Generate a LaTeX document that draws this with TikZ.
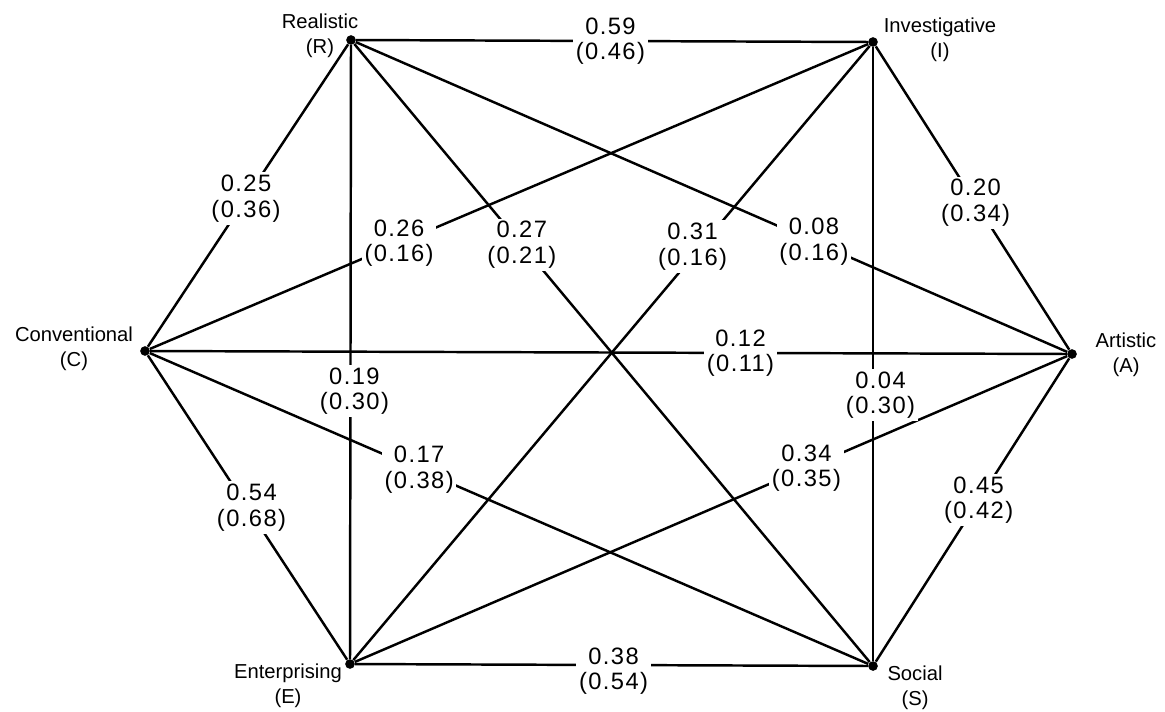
\documentclass[tikz,border=0pt]{standalone}
\usepackage{fontspec}
\setmainfont{Liberation Sans}
\newfontfamily\numfont[LetterSpace=6]{Liberation Sans}
\begin{document}
\begin{tikzpicture}[x=0.02cm,y=-0.02cm,
  edge/.style={line width=1.4pt},
  lab/.style={fill=white, inner sep=1.5pt, align=center, font=\numfont\fontsize{13.5}{14.5}\selectfont},
  vlab/.style={align=center, inner sep=0pt, font=\fontsize{11.5}{14.5}\selectfont},
  vert/.style={circle, fill, inner sep=0pt, minimum size=5.5pt}]
\useasboundingbox (0,0) rectangle (1165,711);
% vertices
\node[vert] (R) at (351,40) {};
\node[vert] (I) at (873,42) {};
\node[vert] (A) at (1072,354) {};
\node[vert] (S) at (873,666) {};
\node[vert] (E) at (350,664) {};
\node[vert] (C) at (145,351) {};
% vertex labels
\node[vlab] (lR) at (320,36) {Realistic\\(R)};
\node[vlab] (lI) at (940,40) {Investigative\\(I)};
\node[vlab] (lC) at (74,349) {Conventional\\(C)};
\node[vlab] (lA) at (1126,355) {Artistic\\(A)};
\node[vlab] (lE) at (288,686) {Enterprising\\(E)};
\node[vlab] (lS) at (915,688) {Social\\(S)};
% edges
\draw[edge] (R) -- (I);
\draw[edge] (I) -- (A);
\draw[edge] (A) -- (S);
\draw[edge] (S) -- (E);
\draw[edge] (C) -- (E);
\draw[edge] (C) -- (R);
\draw[edge] (R) -- (E);
\draw[edge] (C) -- (A);
\draw[edge] (I) -- (S);
\draw[edge] (A) -- (E);
\draw[edge] (C) -- (S);
\draw[edge] (I) -- (C);
\draw[edge] (R) -- (S);
\draw[edge] (I) -- (E);
\draw[edge] (R) -- (A);
% edge labels
\path (R) -- node[lab,pos=0.497] (nRI) {0.59\\(0.46)} (I);
\path (I) -- node[lab,pos=0.516] (nIA) {0.20\\(0.34)} (A);
\path (A) -- node[lab,pos=0.468] (nAS) {0.45\\(0.42)} (S);
\path (S) -- node[lab,pos=0.496,yshift=-0.12cm] (nSE) {0.38\\(0.54)} (E);
\path (C) -- node[lab,pos=0.5,xshift=0.08cm] (nCE) {0.54\\(0.68)} (E);
\path (C) -- node[lab,pos=0.49] (nCR) {0.25\\(0.36)} (R);
\path (R) -- node[lab,pos=0.564,xshift=0.08cm] (nRE) {0.19\\(0.30)} (E);
\path (C) -- node[lab,pos=0.644] (nCA) {0.12\\(0.11)} (A);
\path (I) -- node[lab,pos=0.567,xshift=0.15cm] (nIS) {0.04\\(0.30)} (S);
\path (A) -- node[lab,pos=0.366] (nAE) {0.34\\(0.35)} (E);
\path (C) -- node[lab,pos=0.375] (nCS) {0.17\\(0.38)} (S);
\path (I) -- node[lab,pos=0.653] (nIC) {0.26\\(0.16)} (C);
\path (R) -- node[lab,pos=0.325] (nRS) {0.27\\(0.21)} (S);
\path (I) -- node[lab,pos=0.343,yshift=0.2cm] (nIE) {0.31\\(0.16)} (E);
\path (R) -- node[lab,pos=0.644] (nRA) {0.08\\(0.16)} (A);
\end{tikzpicture}
\end{document}
